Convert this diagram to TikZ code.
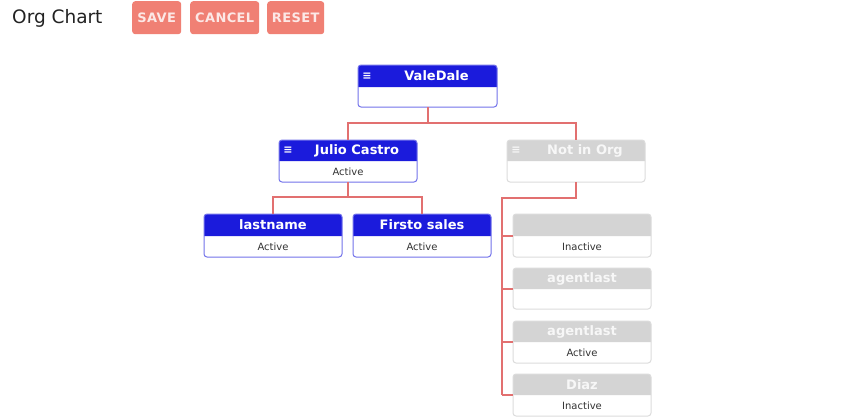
\documentclass[tikz,border=0pt]{standalone}
\usepackage{fontspec}
\setmainfont{DejaVu Sans}
\usetikzlibrary{calc}
\definecolor{hdblue}{RGB}{27,27,220}
\definecolor{bdblue}{RGB}{115,115,235}
\definecolor{hdgray}{RGB}{212,212,212}
\definecolor{bdgray}{RGB}{220,220,220}
\definecolor{conncol}{RGB}{226,112,112}
\definecolor{btncol}{RGB}{240,128,116}
\definecolor{btntext}{RGB}{252,232,230}
\definecolor{bodytext}{RGB}{51,51,51}
\definecolor{titletext}{RGB}{34,34,34}
\tikzset{
  conn/.style={draw=conncol, line width=2pt},
  btn/.style={fill=btncol, rounded corners=3pt, text=btntext, font=\fontsize{13}{14}\selectfont\bfseries\addfontfeatures{LetterSpace=3}, inner sep=0pt, minimum height=33pt, anchor=north west},
  hdtext/.style={font=\fontsize{13}{14}\selectfont\bfseries, inner sep=0pt},
  bdtext/.style={font=\fontsize{10}{12}\selectfont, text=bodytext, inner sep=0pt},
  icon/.style={font=\fontsize{11}{12}\selectfont\bfseries, inner sep=0pt},
}
% #1 name, #2 x1, #3 y1, #4 x2, #5 ydiv, #6 y2, #7 hd color, #8 border color
\newcommand\orgbox[8]{%
  \pgfmathsetmacro\obw{#4-#2}\pgfmathsetmacro\obh{#6-#3}%
  \pgfmathsetmacro\obcx{(#2+#4)/2}\pgfmathsetmacro\obcy{(#3+#6)/2}%
  \node[fill=white, minimum width=\obw pt, minimum height=\obh pt, inner sep=0pt, outer sep=0pt, rounded corners=3pt] (#1) at (\obcx,\obcy) {};
  \fill[#7] (#2,#5) [rounded corners=3pt] -- (#2,#3) -- (#4,#3) [sharp corners] -- (#4,#5) -- cycle;
  \draw[#8, line width=1pt, rounded corners=3pt] (#1.north west) rectangle (#1.south east);
  \coordinate (#1-div) at (#2,#5);
  \pgfmathsetmacro\obty{(#3+#5)/2}\pgfmathsetmacro\obby{(#5+#6)/2}%
  \coordinate (#1-hd) at (\obcx,\obty);
  \coordinate (#1-bd) at (\obcx,\obby);
  \coordinate (#1-ic) at (#2+9,\obty);
}
\begin{document}
\begin{tikzpicture}[x=1pt,y=-1pt]
\useasboundingbox[fill=white] (0,0) rectangle (860,416);
% header bar
\node[anchor=west, inner sep=0pt, text=titletext, font=\fontsize{18.5}{20}\selectfont] (title) at (12,18) {Org Chart};
\node[btn, minimum width=49pt] (save) at (132,1) {SAVE};
\node[btn, minimum width=69pt] (cancel) at (190,1) {CANCEL};
\node[btn, minimum width=57pt] (reset) at (267,1) {RESET};

% boxes
\orgbox{vd}{358}{65}{497}{87}{107}{hdblue}{bdblue}
\node[hdtext, text=white] (vdt) at ($(vd-hd)+(9,0)$) {ValeDale};
\node[icon, text=white] (vdi) at (vd-ic) {≡};

\orgbox{jc}{279}{140}{417}{161}{182}{hdblue}{bdblue}
\node[hdtext, text=white] (jct) at ($(jc-hd)+(9,0)$) {Julio Castro};
\node[icon, text=white] (jci) at (jc-ic) {≡};
\node[bdtext] (jcb) at (jc-bd) {Active};

\orgbox{ni}{507}{140}{645}{161}{182}{hdgray}{bdgray}
\node[hdtext, text=white!97!black] (nit) at ($(ni-hd)+(9,0)$) {Not in Org};
\node[icon, text=white!97!black] (nii) at (ni-ic) {≡};

\orgbox{ln}{204}{214}{342}{236}{257}{hdblue}{bdblue}
\node[hdtext, text=white] (lnt) at (ln-hd) {lastname};
\node[bdtext] (lnb) at (ln-bd) {Active};

\orgbox{fs}{353}{214}{491}{236}{257}{hdblue}{bdblue}
\node[hdtext, text=white] (fst) at (fs-hd) {Firsto sales};
\node[bdtext] (fsb) at (fs-bd) {Active};

\orgbox{ga}{513}{214}{651}{236}{257}{hdgray}{bdgray}
\node[bdtext] (gab) at (ga-bd) {Inactive};

\orgbox{gb}{513}{268}{651}{289}{309}{hdgray}{bdgray}
\node[hdtext, text=white!97!black] (gbt) at (gb-hd) {agentlast};

\orgbox{gc}{513}{321}{651}{342}{363}{hdgray}{bdgray}
\node[hdtext, text=white!97!black] (gct) at (gc-hd) {agentlast};
\node[bdtext] (gcb) at (gc-bd) {Active};

\orgbox{gd}{513}{374}{651}{395}{416}{hdgray}{bdgray}
\node[hdtext, text=white!97!black] (gdt) at (gd-hd) {Diaz};
\node[bdtext] (gdb) at (gd-bd) {Inactive};

% connectors
\draw[conn] (vd.south) -- ++(0,16) -| (jc.north);
\draw[conn] (vd.south) -- ++(0,16) -| (ni.north);
\draw[conn] (jc.south) -- ++(0,15) -| (ln.north);
\draw[conn] (jc.south) -- ++(0,15) -| (fs.north);
\coordinate (trunk) at (502,395);
\draw[conn] (ni.south) -- ++(0,16) -| (trunk);
\draw[conn] (ga-div -| trunk) -- (ga-div);
\draw[conn] (gb-div -| trunk) -- (gb-div);
\draw[conn] (gc-div -| trunk) -- (gc-div);
\draw[conn] (trunk) -- (gd-div);
\end{tikzpicture}
\end{document}
